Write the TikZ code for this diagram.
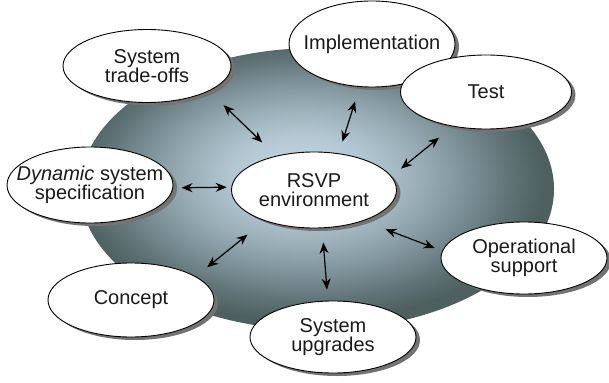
\documentclass[tikz,border=0pt]{standalone}
\usepackage{fontspec}
\setmainfont{Liberation Sans}
\usetikzlibrary{shapes.geometric,shadows,arrows.meta}
\definecolor{sh0}{HTML}{C6D8E4}
\definecolor{sh1}{HTML}{B2C6D1}
\definecolor{sh2}{HTML}{98ADB6}
\definecolor{sh3}{HTML}{7A8F95}
\definecolor{sh4}{HTML}{617579}
\definecolor{sh5}{HTML}{4D5F5E}
\definecolor{inktext}{HTML}{1A1A1A}
\pgfdeclareradialshading{bigglow}{\pgfpoint{-2bp}{3bp}}{color(0bp)=(sh0); color(7.5bp)=(sh1); color(12.5bp)=(sh2); color(17.5bp)=(sh3); color(21.25bp)=(sh4); color(25bp)=(sh5); color(50bp)=(sh5)}
\tikzset{
  bub/.style={ellipse, draw=black, line width=0.9pt, fill=white, inner sep=0pt,
    drop shadow={shadow xshift=4pt, shadow yshift=-3pt, fill=black!55, opacity=1}},
  txt/.style={font=\fontsize{20}{19}\selectfont, text=inktext, align=center, inner sep=0pt},
  dblarr/.style={line width=1.2pt, {Stealth[length=11pt,width=9pt]}-{Stealth[length=11pt,width=9pt]}}
}
\begin{document}
\begin{tikzpicture}[x=1pt,y=-1pt]
\useasboundingbox (0,0) rectangle (609,382);
\shade[shading=bigglow] (317,189) ellipse [x radius=237, y radius=141];

% nodes
\node[bub, minimum width=168pt, minimum height=73pt] (trade) at (147,66) {};
\node[txt] (tradeT) at (trade) {System\\trade-offs};
\node[bub, minimum width=166pt, minimum height=86pt] (impl) at (372,44) {};
\node[txt] (implT) at (impl) {Implementation};
\node[bub, minimum width=171pt, minimum height=74pt] (test) at (486,92) {};
\node[txt] (testT) at (test) {Test};
\node[bub, minimum width=166pt, minimum height=76pt] (dyn) at (90,185) {};
\node[txt] (dynT) at (dyn) {\textit{Dynamic} system\\specification};
\node[bub, minimum width=165pt, minimum height=76pt] (rsvp) at (314,190) {};
\node[txt] (rsvpT) at (rsvp) {RSVP\\environment};
\node[bub, minimum width=166pt, minimum height=72pt] (oper) at (524,258) {};
\node[txt] (operT) at (oper) {Operational\\support};
\node[bub, minimum width=166pt, minimum height=74pt] (concept) at (131,300) {};
\node[txt] (conceptT) at (concept) {Concept};
\node[bub, minimum width=166pt, minimum height=72pt] (upg) at (333,337) {};
\node[txt] (upgT) at (upg) {System\\upgrades};

% connectors
\draw[dblarr, shorten <=19.2pt, shorten >=20.2pt] (rsvp.138.7) -- (trade.-22);
\draw[dblarr, shorten <=12.3pt, shorten >=15.2pt] (rsvp.56.2) -- (impl.-106.3);
\draw[dblarr, shorten <=12.3pt, shorten >=17.5pt] (rsvp.10.6) -- (test.-134.3);
\draw[dblarr, shorten <=4.6pt, shorten >=8.3pt] (rsvp.178.6) -- (dyn.-2.1);
\draw[dblarr, shorten <=23.6pt, shorten >=8.1pt] (rsvp.-32) -- (oper.175);
\draw[dblarr, shorten <=14.3pt, shorten >=11.1pt] (rsvp.-78.3) -- (upg.98.1);
\draw[dblarr, shorten <=21.9pt, shorten >=14.7pt] (rsvp.-148.7) -- (concept.20.5);
\end{tikzpicture}
\end{document}
